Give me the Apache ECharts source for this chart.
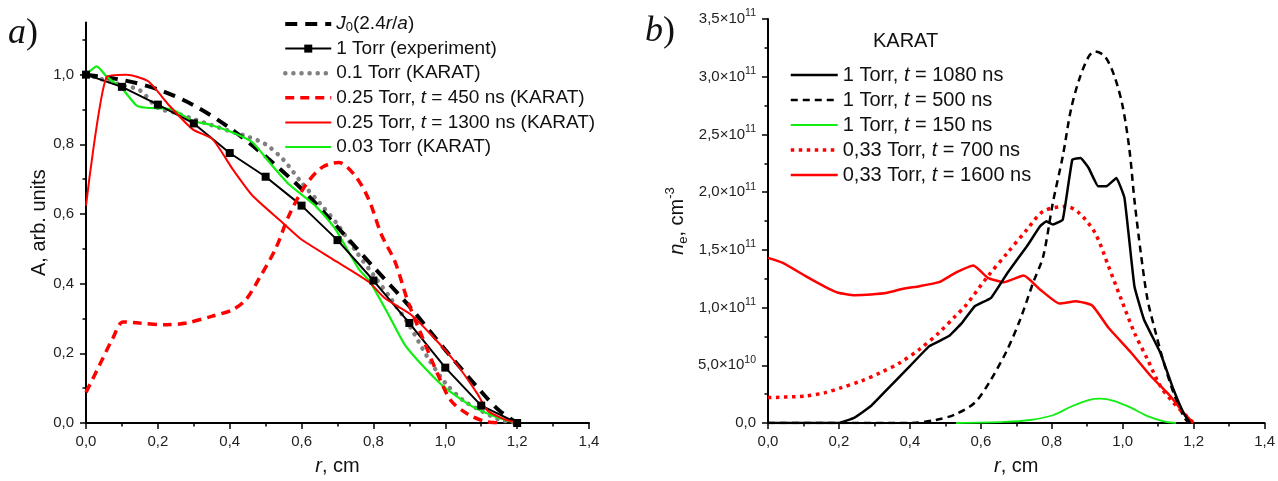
<!DOCTYPE html>
<html>
<head>
<meta charset="utf-8">
<script src="https://cdn.jsdelivr.net/npm/echarts@6/dist/echarts.min.js"></script>
<style>
  html, body { margin: 0; padding: 0; background: #fff; }
  #chart { width: 1278px; height: 481px; }
</style>
</head>
<body>
<div id="chart"></div>
<script>
// ---------- panel a): amplitude profiles A(r) ----------
const rJ0 = [0, 0.1, 0.2, 0.3, 0.4, 0.5, 0.6, 0.7, 0.8, 0.9, 1.0, 1.1, 1.15, 1.2];
const aJ0 = [1.0, 0.985, 0.958, 0.912, 0.847, 0.765, 0.672, 0.562, 0.448, 0.335, 0.21, 0.09, 0.036, 0.0];

const rExp = [0, 0.1, 0.2, 0.3, 0.4, 0.5, 0.6, 0.7, 0.8, 0.9, 1.0, 1.1, 1.2];
const aExp = [1.0, 0.965, 0.914, 0.860, 0.775, 0.707, 0.624, 0.525, 0.409, 0.287, 0.159, 0.050, 0.0];

const rT01 = [0, 0.05, 0.1, 0.15, 0.2, 0.25, 0.3, 0.35, 0.4, 0.45, 0.5, 0.55, 0.6, 0.65, 0.7, 0.75, 0.8, 0.85, 0.9, 0.95, 1.0, 1.05, 1.1, 1.15, 1.2];
const aT01 = [1.0, 0.985, 0.97, 0.955, 0.905, 0.89, 0.872, 0.855, 0.838, 0.822, 0.80, 0.755, 0.69, 0.632, 0.57, 0.495, 0.425, 0.355, 0.28, 0.19, 0.115, 0.065, 0.035, 0.01, 0.0];

const rT025a = [0, 0.03, 0.075, 0.103, 0.149, 0.223, 0.279, 0.352, 0.408, 0.445, 0.482, 0.528, 0.565, 0.61, 0.657, 0.703, 0.749, 0.786, 0.823, 0.86, 0.896, 0.933, 0.979, 1.016, 1.062, 1.109, 1.15];
const aT025a = [0.088, 0.15, 0.244, 0.29, 0.287, 0.282, 0.287, 0.307, 0.325, 0.354, 0.415, 0.501, 0.596, 0.681, 0.734, 0.748, 0.71, 0.644, 0.539, 0.463, 0.349, 0.254, 0.14, 0.064, 0.026, 0.005, 0.0];

const rT025b = [0, 0.057, 0.113, 0.173, 0.233, 0.297, 0.352, 0.408, 0.463, 0.545, 0.597, 0.684, 0.786, 0.832, 0.905, 0.96, 1.025, 1.09, 1.117, 1.164, 1.2];
const aT025b = [0.624, 0.993, 1.0, 0.981, 0.91, 0.843, 0.815, 0.729, 0.653, 0.577, 0.529, 0.472, 0.406, 0.358, 0.311, 0.254, 0.178, 0.083, 0.036, 0.011, 0.0];

const rT003 = [0, 0.03, 0.057, 0.103, 0.14, 0.168, 0.24, 0.297, 0.343, 0.408, 0.463, 0.51, 0.564, 0.638, 0.693, 0.758, 0.79, 0.842, 0.887, 0.942, 0.998, 1.071, 1.145, 1.2];
const aT003 = [1.0, 1.024, 0.995, 0.957, 0.912, 0.905, 0.90, 0.867, 0.857, 0.834, 0.806, 0.749, 0.686, 0.624, 0.558, 0.444, 0.406, 0.311, 0.225, 0.159, 0.102, 0.05, 0.016, 0.0];

// ---------- panel b): electron density n_e(r), in units of 1e11 cm^-3 ----------
const r1080 = [0, 0.198, 0.244, 0.29, 0.345, 0.4, 0.455, 0.51, 0.547, 0.583, 0.629, 0.675, 0.73, 0.767, 0.785, 0.803, 0.831, 0.858, 0.881, 0.904, 0.931, 0.954, 0.982, 1.005, 1.033, 1.06, 1.106, 1.143, 1.171, 1.19];
const n1080 = [0, 0.0, 0.047, 0.147, 0.32, 0.493, 0.666, 0.753, 0.868, 1.012, 1.085, 1.30, 1.531, 1.704, 1.747, 1.719, 1.762, 2.281, 2.296, 2.209, 2.05, 2.05, 2.123, 1.95, 1.185, 0.897, 0.609, 0.292, 0.09, 0.0];

const r500 = [0, 0.4, 0.473, 0.528, 0.583, 0.629, 0.675, 0.711, 0.748, 0.776, 0.803, 0.831, 0.854, 0.877, 0.904, 0.922, 0.95, 0.977, 1.0, 1.019, 1.033, 1.051, 1.07, 1.093, 1.116, 1.143, 1.171, 1.185];
const n500 = [0, 0.0, 0.026, 0.075, 0.176, 0.378, 0.638, 0.897, 1.22, 1.445, 1.907, 2.31, 2.714, 2.973, 3.175, 3.218, 3.175, 3.002, 2.742, 2.368, 1.935, 1.474, 1.07, 0.782, 0.522, 0.263, 0.06, 0.0];

const r150 = [0.53, 0.666, 0.739, 0.803, 0.858, 0.904, 0.936, 0.977, 1.023, 1.07, 1.116, 1.15];
const n150 = [0.0, 0.009, 0.026, 0.067, 0.147, 0.199, 0.211, 0.19, 0.133, 0.06, 0.015, 0.0];

const r700 = [0, 0.106, 0.161, 0.207, 0.262, 0.317, 0.372, 0.427, 0.482, 0.528, 0.556, 0.62, 0.675, 0.73, 0.776, 0.84, 0.877, 0.922, 0.96, 0.996, 1.033, 1.07, 1.106, 1.143, 1.18, 1.2];
const n700 = [0.22, 0.234, 0.263, 0.306, 0.363, 0.436, 0.522, 0.638, 0.782, 0.925, 1.012, 1.272, 1.474, 1.676, 1.834, 1.877, 1.82, 1.647, 1.358, 1.07, 0.782, 0.551, 0.32, 0.176, 0.06, 0.0];

const r1600 = [0, 0.042, 0.106, 0.161, 0.198, 0.244, 0.29, 0.336, 0.381, 0.427, 0.482, 0.528, 0.579, 0.62, 0.666, 0.721, 0.767, 0.822, 0.868, 0.914, 0.96, 1.024, 1.079, 1.134, 1.171, 1.199];
const n1600 = [1.431, 1.387, 1.272, 1.18, 1.128, 1.107, 1.113, 1.128, 1.163, 1.185, 1.22, 1.30, 1.364, 1.258, 1.22, 1.278, 1.157, 1.035, 1.055, 1.018, 0.825, 0.609, 0.407, 0.234, 0.09, 0.0];

// tick values
const aTicks = [0, 0.2, 0.4, 0.6, 0.8, 1.0];
const aMinorTicks = [0.1, 0.3, 0.5, 0.7, 0.9, 1.1];

const zip = (xs, ys) => xs.map((x, i) => [x, ys[i]]);
const comma = v => v.toFixed(1).replace('.', ',');

const FONT = 'Liberation Sans, Arial, sans-serif';
const SERIF = 'Liberation Serif, Times New Roman, serif';
const RED = '#ff0000';
const GREEN = '#11ee11';
const GRAY = '#808080';

// line styles shared by each curve and its legend key
const styles = {
  'J0': { color: '#000', width: 4, type: [12, 8] },
  '1 Torr (experiment)': { color: '#000', width: 2 },
  '0.1 Torr (KARAT)': { color: GRAY, width: 4.5, type: [0.1, 8], cap: 'round' },
  '0.25 Torr 450': { color: RED, width: 3.5, type: [9, 6] },
  '0.25 Torr 1300': { color: RED, width: 2 },
  '0.03 Torr (KARAT)': { color: GREEN, width: 2.2 },
  '1 Torr 1080': { color: '#000', width: 2.5 },
  '1 Torr 500': { color: '#000', width: 2.5, type: [7, 5] },
  '1 Torr 150': { color: GREEN, width: 1.8 },
  '0,33 Torr 700': { color: RED, width: 3.5, type: [3.5, 4.5] },
  '0,33 Torr 1600': { color: RED, width: 2.5 }
};

const axisCommon = {
  axisLine: { show: true, lineStyle: { color: '#000', width: 2 } },
  axisTick: { show: true, length: 6, lineStyle: { color: '#000', width: 1.5 } },
  splitLine: { show: false },
  axisLabel: { color: '#222', fontFamily: FONT, fontSize: 15 }
};

const chart = echarts.init(document.getElementById('chart'), null, { renderer: 'canvas' });

const richA = {
  i: { fontFamily: FONT, fontStyle: 'italic', fontSize: 19, color: '#111' },
  n: { fontFamily: FONT, fontSize: 19, color: '#111' },
  sub: { fontFamily: FONT, fontSize: 13, color: '#111', verticalAlign: 'bottom', padding: [8, 0, 0, 0] }
};
const richB = {
  i: { fontFamily: FONT, fontStyle: 'italic', fontSize: 20, color: '#111' },
  n: { fontFamily: FONT, fontSize: 20, color: '#111' }
};

const legendNamesA = {
  'J0': '{i|J}{sub|0}{n|(2.4}{i|r}{n|/}{i|a}{n|)}',
  '1 Torr (experiment)': '{n|1 Torr (experiment)}',
  '0.1 Torr (KARAT)': '{n|0.1 Torr (KARAT)}',
  '0.25 Torr 450': '{n|0.25 Torr, }{i|t}{n| = 450 ns (KARAT)}',
  '0.25 Torr 1300': '{n|0.25 Torr, }{i|t}{n| = 1300 ns (KARAT)}',
  '0.03 Torr (KARAT)': '{n|0.03 Torr (KARAT)}'
};
const legendNamesB = {
  '1 Torr 1080': '{n|1 Torr, }{i|t}{n| = 1080 ns}',
  '1 Torr 500': '{n|1 Torr, }{i|t}{n| = 500 ns}',
  '1 Torr 150': '{n|1 Torr, }{i|t}{n| = 150 ns}',
  '0,33 Torr 700': '{n|0,33 Torr, }{i|t}{n| = 700 ns}',
  '0,33 Torr 1600': '{n|0,33 Torr, }{i|t}{n| = 1600 ns}'
};
// legend keys: plain line for most entries, the marker only on the experimental one
const legendItems = (names, withMarker) => Object.keys(names).map(n => ({
  name: n,
  itemStyle: { opacity: n === withMarker ? 1 : 0 },
  lineStyle: Object.assign({}, styles[n])
}));

const xAxisFor = grid => Object.assign({}, axisCommon, {
  type: 'value', gridIndex: grid, min: 0, max: 1.4, interval: 0.2,
  minorTick: { show: true, splitNumber: 2, length: 3.5, lineStyle: { color: '#000', width: 1.5 } },
  axisLabel: Object.assign({}, axisCommon.axisLabel, { margin: 11, formatter: comma, alignMaxLabel: 'center' }),
  name: '{i|r}{n|, cm}', nameLocation: 'middle', nameGap: 33,
  nameTextStyle: { rich: { i: { fontFamily: FONT, fontStyle: 'italic', fontSize: 20, color: '#111' }, n: { fontFamily: FONT, fontSize: 20, color: '#111' } } }
});

const lineSeries = (name, xi, yi, data, extra) => Object.assign({
  name, type: 'line', xAxisIndex: xi, yAxisIndex: yi, data, symbol: 'none',
  lineStyle: styles[name], itemStyle: { color: styles[name].color }
}, extra);

const option = {
  animation: false,
  backgroundColor: '#fff',
  grid: [
    { left: 86, right: 689, top: 22.4, bottom: 55.3, containLabel: false },
    { left: 768, right: 1.5, top: 19, bottom: 57.3, containLabel: false }
  ],
  xAxis: [xAxisFor(0), xAxisFor(1)],
  yAxis: [
    Object.assign({}, axisCommon, {
      type: 'value', gridIndex: 0, min: 0, max: 1.15, position: 'left',
      axisTick: Object.assign({}, axisCommon.axisTick, { customValues: aTicks }),
      axisLabel: Object.assign({}, axisCommon.axisLabel, { margin: 12, customValues: aTicks, formatter: comma }),
      name: 'A, arb. units', nameLocation: 'middle', nameGap: 37,
      nameTextStyle: { fontFamily: FONT, fontSize: 20, color: '#111' }
    }),
    {
      type: 'value', gridIndex: 0, min: 0, max: 1.15, position: 'left',
      axisLine: { show: false }, splitLine: { show: false },
      axisTick: { show: true, length: 3.5, customValues: aMinorTicks, lineStyle: { color: '#000', width: 1.5 } },
      axisLabel: { show: false, customValues: aMinorTicks }
    },
    Object.assign({}, axisCommon, {
      type: 'value', gridIndex: 1, min: 0, max: 3.5, interval: 0.5, position: 'left',
      minorTick: { show: true, splitNumber: 2, length: 3.5, lineStyle: { color: '#000', width: 1.5 } },
      axisLabel: Object.assign({}, axisCommon.axisLabel, {
        margin: 12, lineHeight: 22,
        formatter: v => {
          if (v === 0) return '0,0';
          if (v < 1) return comma(v * 10) + '×10{sup|10}';
          return comma(v) + '×10{sup|11}';
        },
        rich: { sup: { fontFamily: FONT, fontSize: 10.5, color: '#222', verticalAlign: 'top', lineHeight: 10 } }
      }),
      name: '{i|n}{sub|e}{n|, cm}{sup|-3}', nameLocation: 'middle', nameGap: 78,
      nameTextStyle: {
        lineHeight: 26,
        rich: {
          i: { fontFamily: FONT, fontStyle: 'italic', fontSize: 20, color: '#111' },
          n: { fontFamily: FONT, fontSize: 20, color: '#111' },
          sub: { fontFamily: FONT, fontSize: 13, color: '#111', verticalAlign: 'bottom', lineHeight: 13 },
          sup: { fontFamily: FONT, fontSize: 13, color: '#111', verticalAlign: 'top', lineHeight: 13 }
        }
      }
    })
  ],
  legend: [
    {
      left: 283, top: 14, padding: 0, orient: 'vertical', itemWidth: 46, itemHeight: 10, itemGap: 4.6,
      data: legendItems(legendNamesA, '1 Torr (experiment)'),
      formatter: name => legendNamesA[name],
      textStyle: { fontFamily: FONT, fontSize: 19, color: '#111', lineHeight: 20, rich: richA },
      selectedMode: false
    },
    {
      left: 789, top: 65, padding: 0, orient: 'vertical', itemWidth: 47, itemHeight: 14, itemGap: 5,
      data: legendItems(legendNamesB, null),
      formatter: name => legendNamesB[name],
      textStyle: { fontFamily: FONT, fontSize: 20, color: '#111', lineHeight: 20, rich: richB },
      selectedMode: false
    }
  ],
  graphic: [
    { type: 'text', left: 8, top: 16, style: { text: '{i|a}{n|)}', rich: { i: { fontFamily: SERIF, fontStyle: 'italic', fontSize: 36, fill: '#111' }, n: { fontFamily: SERIF, fontSize: 36, fill: '#111' } } } },
    { type: 'text', left: 645, top: 14, style: { text: '{i|b}{n|)}', rich: { i: { fontFamily: SERIF, fontStyle: 'italic', fontSize: 36, fill: '#111' }, n: { fontFamily: SERIF, fontSize: 36, fill: '#111' } } } },
    { type: 'text', left: 873, top: 31, style: { text: 'KARAT', font: '20px ' + FONT, fill: '#111' } }
  ],
  series: [
    // panel a)
    lineSeries('J0', 0, 0, zip(rJ0, aJ0), { smooth: 0.3, z: 3 }),
    lineSeries('0.1 Torr (KARAT)', 0, 0, zip(rT01, aT01), { smooth: 0.3, z: 2 }),
    lineSeries('0.03 Torr (KARAT)', 0, 0, zip(rT003, aT003), { smooth: 0.2, z: 3 }),
    lineSeries('1 Torr (experiment)', 0, 0, zip(rExp, aExp), { symbol: 'rect', symbolSize: 8, z: 4 }),
    lineSeries('0.25 Torr 1300', 0, 0, zip(rT025b, aT025b), { smooth: 0.2, z: 4 }),
    lineSeries('0.25 Torr 450', 0, 0, zip(rT025a, aT025a), { smooth: 0.3, z: 5 }),

    // panel b)
    lineSeries('1 Torr 150', 1, 2, zip(r150, n150), { smooth: 0.3, z: 2 }),
    lineSeries('1 Torr 500', 1, 2, zip(r500, n500), { smooth: 0.3, z: 3 }),
    lineSeries('0,33 Torr 700', 1, 2, zip(r700, n700), { smooth: 0.3, z: 3 }),
    lineSeries('0,33 Torr 1600', 1, 2, zip(r1600, n1600), { smooth: 0.15, z: 4 }),
    lineSeries('1 Torr 1080', 1, 2, zip(r1080, n1080), { smooth: 0.1, z: 5 })
  ]
};

chart.setOption(option);
</script>
</body>
</html>
